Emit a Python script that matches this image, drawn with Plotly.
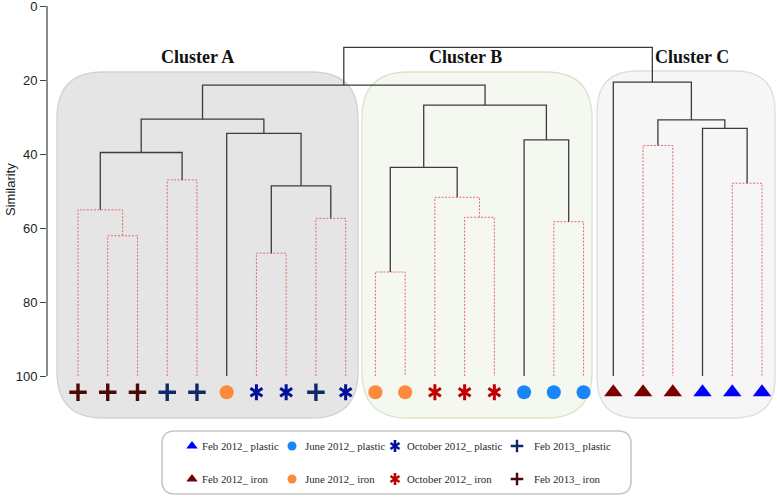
import plotly.graph_objects as go

# ---------------- data ----------------
leaf_groups = (["Feb 2013_ iron"] * 3 + ["Feb 2013_ plastic"] * 2 + ["June 2012_ iron"]
               + ["October 2012_ plastic"] * 2 + ["Feb 2013_ plastic"] + ["October 2012_ plastic"]
               + ["June 2012_ iron"] * 2 + ["October 2012_ iron"] * 3 + ["June 2012_ plastic"] * 3
               + ["Feb 2012_ iron"] * 3 + ["Feb 2012_ plastic"] * 3)

# merges: (left child, right child, similarity, significant?) ; ids: leaves 0..23, merges 24..
merge_left = [1, 0, 3, 25, 6, 8, 28, 5, 27, 10, 13, 12, 33, 16, 15, 36, 32, 19, 22, 21, 41, 18, 40]
merge_right = [2, 24, 4, 26, 7, 9, 29, 30, 31, 11, 14, 34, 35, 17, 37, 38, 39, 20, 23, 42, 43, 44, 45]
merge_height = [62.1, 55.1, 47.0, 39.6, 66.8, 57.4, 48.6, 34.4, 30.6, 71.9, 57.1, 51.7, 43.6,
                58.3, 36.2, 26.8, 21.4, 37.7, 47.9, 33.1, 30.8, 20.6, 11.2]
merge_signif = [0, 0, 0, 1, 0, 0, 1, 1, 1, 0, 0, 0, 1, 0, 1, 1, 1, 0, 0, 1, 1, 1, 1]

legend_order = ["Feb 2012_ plastic", "June 2012_ plastic", "October 2012_ plastic", "Feb 2013_ plastic",
                "Feb 2012_ iron", "June 2012_ iron", "October 2012_ iron", "Feb 2013_ iron"]

cluster_names = ["Cluster A", "Cluster B", "Cluster C"]
y_ticks = [0, 20, 40, 60, 80, 100]

# ---------------- styles ----------------
W, H = 777, 498
ML = 47
px_per_x = 684 / 23.0
px_per_y = 3.7
x0 = -(78 - ML) / px_per_x
x1 = x0 + (W - ML) / px_per_x
y0 = -6 / px_per_y
y1 = y0 + H / px_per_y
LEAF_BASE = 100
MARKER_Y = 104.4

styles = {
    "Feb 2012_ plastic": dict(kind="tri", color="#0000ff"),
    "June 2012_ plastic": dict(kind="circ", color="#1a86f5"),
    "October 2012_ plastic": dict(kind="ast", color="#00109a"),
    "Feb 2013_ plastic": dict(kind="plus", color="#0f2a66"),
    "Feb 2012_ iron": dict(kind="tri", color="#7a0000"),
    "June 2012_ iron": dict(kind="circ", color="#fb8a3c"),
    "October 2012_ iron": dict(kind="ast", color="#c00000"),
    "Feb 2013_ iron": dict(kind="plus", color="#4a0808"),
}


def marker_spec(kind, color, big=True):
    if kind == "tri":
        return dict(symbol="triangle-up", size=16 if big else 10, color=color, line=dict(width=0))
    if kind == "circ":
        return dict(symbol="circle", size=14 if big else 9, color=color, line=dict(width=0))
    if kind == "plus":
        return dict(symbol="cross-thin-open", size=12.5 if big else 9, color=color,
                    line=dict(width=3.4 if big else 2.4, color=color))
    return None


fig = go.Figure()

# ---------------- background shapes (pixel overlay axes) ----------------
def rrect(xa, xb, ya, yb, r):
    return (f"M{xa+r},{ya} L{xb-r},{ya} Q{xb},{ya} {xb},{ya+r} L{xb},{yb-r} Q{xb},{yb} {xb-r},{yb} "
            f"L{xa+r},{yb} Q{xa},{yb} {xa},{yb-r} L{xa},{ya+r} Q{xa},{ya} {xa+r},{ya} Z")

shapes = []
boxes = [
    (57, 358, 72, 418, 46, "#e5e5e5", "#d2d2d2"),
    (362, 592, 72, 418, 46, "#f5f8f0", "#d6e6c6"),
    (597, 775, 71, 418, 40, "#f6f6f6", "#dddddd"),
]
for xa, xb, ya, yb, r, fc, lc in boxes:
    shapes.append(dict(type="path", path=rrect(xa, xb, ya, yb, r), xref="x2", yref="y2",
                       fillcolor=fc, line=dict(color=lc, width=1.3), layer="below"))
# legend box
shapes.append(dict(type="path", path=rrect(162, 631, 431, 494, 13), xref="x2", yref="y2",
                   fillcolor="white", line=dict(color="#c6c6c6", width=1.6), layer="below"))
# y axis line
shapes.append(dict(type="line", xref="paper", yref="y", x0=0, x1=0, y0=0, y1=100,
                   line=dict(color="#8c8c8c", width=2), layer="above"))

# ---------------- dendrogram ----------------
node_x = {i: float(i) for i in range(len(leaf_groups))}
node_h = {i: LEAF_BASE for i in range(len(leaf_groups))}
seg = {0: ([], []), 1: ([], [])}
for k, (a, b, h, s) in enumerate(zip(merge_left, merge_right, merge_height, merge_signif)):
    nid = len(leaf_groups) + k
    xa, xb = node_x[a], node_x[b]
    xs, ys = seg[s]
    xs += [xa, xa, xb, xb, None]
    ys += [node_h[a], h, h, node_h[b], None]
    node_x[nid] = (xa + xb) / 2
    node_h[nid] = h

fig.add_trace(go.Scatter(x=seg[0][0], y=seg[0][1], mode="lines", showlegend=False, hoverinfo="skip",
                         line=dict(color="#e46a6a", width=1, dash="2px,1.5px")))
fig.add_trace(go.Scatter(x=seg[1][0], y=seg[1][1], mode="lines", showlegend=False, hoverinfo="skip",
                         line=dict(color="#3c3c3c", width=1.3)))

# ---------------- leaf markers ----------------
for g in legend_order:
    st = styles[g]
    idx = [i for i, lg in enumerate(leaf_groups) if lg == g]
    if st["kind"] == "ast":
        xs = idx + idx
        sy = ["y-up-open"] * len(idx) + ["y-down-open"] * len(idx)
        mk = dict(symbol=sy, size=10, color=st["color"], line=dict(width=3, color=st["color"]))
    else:
        xs = idx
        mk = marker_spec(st["kind"], st["color"])
    fig.add_trace(go.Scatter(x=xs, y=[MARKER_Y] * len(xs), mode="markers", marker=mk,
                             showlegend=False, hoverinfo="skip"))

# ---------------- custom legend (pixel overlay axes) ----------------
col_marker_x = [192, 292, 395, 517]
col_text_x = [200, 303, 405, 532]
row_y = [446, 479]
annotations = []
for j, g in enumerate(legend_order):
    st = styles[g]
    mx, tx, yy = col_marker_x[j % 4], col_text_x[j % 4], row_y[j // 4]
    if st["kind"] == "ast":
        mk = dict(symbol=["y-up-open", "y-down-open"], size=7.5, color=st["color"],
                  line=dict(width=2.6, color=st["color"]))
        xs = [mx, mx]
    else:
        mk = marker_spec(st["kind"], st["color"], big=False)
        xs = [mx]
    fig.add_trace(go.Scatter(x=xs, y=[yy] * len(xs), xaxis="x2", yaxis="y2", mode="markers",
                             marker=mk, showlegend=False, hoverinfo="skip"))
    annotations.append(dict(x=tx, y=yy, xref="x2", yref="y2", text=g, showarrow=False,
                            xanchor="left", yanchor="middle",
                            font=dict(family="Liberation Serif", size=10.8, color="#2a2a2a")))

# cluster titles
cluster_pos = [(197, 57), (465, 57), (692, 57)]
for name, (cx, cy) in zip(cluster_names, cluster_pos):
    annotations.append(dict(x=cx, y=cy, xref="x2", yref="y2", text=f"<b>{name}</b>", showarrow=False,
                            xanchor="center", yanchor="middle",
                            font=dict(family="Liberation Serif", size=18, color="#111111")))

annotations.append(dict(x=-(ML - 10) / (W - ML), y=190, xref="paper", yref="y2", text="Similarity",
                        textangle=-90, showarrow=False, xanchor="center", yanchor="middle",
                        font=dict(family="Liberation Sans", size=13, color="#222222")))

fig.update_layout(
    width=W, height=H,
    margin=dict(l=ML, r=0, t=0, b=0, autoexpand=False),
    plot_bgcolor="white", paper_bgcolor="white",
    shapes=shapes, annotations=annotations,
    xaxis=dict(range=[x0, x1], visible=False, fixedrange=True, automargin=False),
    yaxis=dict(range=[y1, y0], tickvals=y_ticks, ticks="outside", ticklen=6, tickwidth=1.2,
               tickcolor="#444444", showgrid=False, zeroline=False, showline=False, automargin=False,
               ticklabeloverflow="allow",
               tickfont=dict(family="Liberation Sans", size=13, color="#222222")),
    xaxis2=dict(range=[ML, W], overlaying="x", visible=False, fixedrange=True),
    yaxis2=dict(range=[H, 0], overlaying="y", visible=False, fixedrange=True),
    showlegend=False,
)

fig.write_html("out.html", config={"displayModeBar": False},
               post_script="document.body.style.margin='0';document.body.style.overflow='hidden';")
